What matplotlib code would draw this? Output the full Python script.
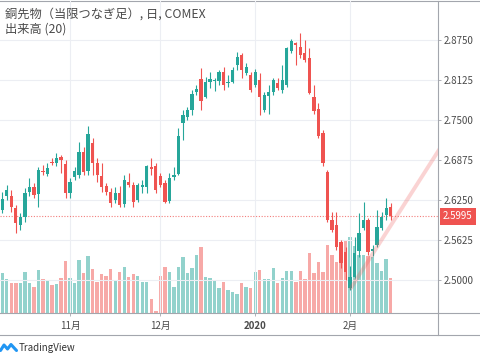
import matplotlib
matplotlib.use("Agg")
import matplotlib.pyplot as plt
import matplotlib.transforms as mtransforms
from matplotlib.lines import Line2D

plt.rcParams['font.family'] = ['Noto Sans CJK JP', 'DejaVu Sans']

# daily OHLC, COMEX copper (continuous), Oct 2019 - Feb 2020
opens = [2.609, 2.631, 2.631, 2.6125, 2.586, 2.598, 2.6375, 2.645, 2.634, 2.671,
         2.6656, 2.6845, 2.6823, 2.6922, 2.6813, 2.636, 2.661, 2.664, 2.700, 2.6703,
         2.7141, 2.6828, 2.6625, 2.6469, 2.6375, 2.625, 2.6359, 2.6188, 2.6531, 2.6484,
         2.625, 2.6453, 2.6453, 2.6766, 2.6781, 2.6625, 2.6516, 2.6234, 2.661, 2.6656,
         2.7453, 2.7547, 2.7656, 2.7938, 2.8141, 2.7864, 2.8098, 2.8109, 2.8109, 2.8255,
         2.8073, 2.8098, 2.8359, 2.8516, 2.8239, 2.8203, 2.8047, 2.8125, 2.7656, 2.7875,
         2.7942, 2.8078, 2.7969, 2.8047, 2.8583, 2.8703, 2.8645, 2.8547, 2.8464, 2.786,
         2.767, 2.7297, 2.6688, 2.5938, 2.586, 2.5594, 2.5438, 2.4875, 2.5047, 2.5453,
         2.5813, 2.5938, 2.5453, 2.5547, 2.5813, 2.6016, 2.6141]
highs = [2.6375, 2.648, 2.641, 2.617, 2.6047, 2.644, 2.659, 2.6516, 2.6766, 2.679,
         2.683, 2.6906, 2.6984, 2.6953, 2.6875, 2.659, 2.6766, 2.7156, 2.708, 2.7406,
         2.7219, 2.6906, 2.6828, 2.6516, 2.6438, 2.6453, 2.6469, 2.6641, 2.6672, 2.6536,
         2.6516, 2.6563, 2.680, 2.6906, 2.6828, 2.6672, 2.6563, 2.6672, 2.6766, 2.7375,
         2.7656, 2.7703, 2.7969, 2.8047, 2.8313, 2.8172, 2.8255, 2.8156, 2.8281, 2.8333,
         2.8203, 2.8333, 2.8567, 2.8547, 2.8391, 2.8255, 2.8297, 2.8234, 2.7938, 2.8047,
         2.8156, 2.8156, 2.8359, 2.864, 2.8766, 2.8723, 2.8864, 2.875, 2.8625, 2.8047,
         2.7766, 2.7344, 2.6719, 2.606, 2.606, 2.5625, 2.5516, 2.5219, 2.5672, 2.6047,
         2.6219, 2.5969, 2.5547, 2.6094, 2.6063, 2.6281, 2.6203]
lows = [2.6047, 2.625, 2.606, 2.573, 2.578, 2.5906, 2.631, 2.628, 2.614, 2.664,
        2.6625, 2.6797, 2.678, 2.667, 2.628, 2.628, 2.656, 2.659, 2.664, 2.664,
        2.6641, 2.6531, 2.6375, 2.6328, 2.6141, 2.6203, 2.6141, 2.6141, 2.6453, 2.6145,
        2.6219, 2.6359, 2.6364, 2.6641, 2.6359, 2.6453, 2.6203, 2.6203, 2.656, 2.664,
        2.7188, 2.75, 2.7578, 2.7891, 2.7656, 2.7844, 2.8, 2.7953, 2.8047, 2.7969,
        2.8016, 2.8078, 2.8281, 2.8156, 2.8203, 2.7938, 2.8016, 2.7578, 2.7625, 2.7598,
        2.7891, 2.7969, 2.7922, 2.8016, 2.8547, 2.836, 2.8464, 2.8411, 2.7906, 2.759,
        2.722, 2.678, 2.5906, 2.575, 2.547, 2.519, 2.5, 2.4844, 2.5031, 2.5359,
        2.5781, 2.539, 2.5375, 2.5516, 2.5781, 2.5938, 2.5938]
closes = [2.627, 2.641, 2.614, 2.589, 2.598, 2.636, 2.645, 2.633, 2.672, 2.6695,
          2.6755, 2.683, 2.691, 2.6875, 2.636, 2.6536, 2.6708, 2.700, 2.6687, 2.728,
          2.6828, 2.6641, 2.6453, 2.6375, 2.6203, 2.6359, 2.6172, 2.6563, 2.6484, 2.6223,
          2.6484, 2.6484, 2.6781, 2.6739, 2.6406, 2.6484, 2.6223, 2.6594, 2.664, 2.725,
          2.7578, 2.7656, 2.7906, 2.7984, 2.7802, 2.8098, 2.8141, 2.8125, 2.8255, 2.8047,
          2.8098, 2.8281, 2.8489, 2.8281, 2.8333, 2.7969, 2.8255, 2.7864, 2.7891, 2.7942,
          2.8125, 2.8, 2.8125, 2.8625, 2.8739, 2.8672, 2.8516, 2.8438, 2.7917, 2.764,
          2.725, 2.6828, 2.5938, 2.578, 2.5516, 2.5266, 2.5125, 2.5047, 2.5422, 2.5734,
          2.5938, 2.5438, 2.5484, 2.5828, 2.5984, 2.6125, 2.5995]
volume = [60000, 51000, 45000, 45000, 45000, 61500, 45000, 39000, 64500, 51000,
          48000, 42000, 43500, 52500, 78000, 52500, 45000, 79500, 60000, 85500,
          66000, 46500, 58500, 55500, 66000, 49500, 61500, 69000, 54000, 58500,
          55500, 46500, 46500, 21000, 3000, 55500, 69000, 61500, 39000, 69000,
          84000, 60000, 67500, 87000, 99000, 54000, 52500, 48000, 37500, 46500,
          34500, 31500, 28500, 45000, 39000, 37500, 61500, 64500, 51000, 51000,
          67500, 45000, 52500, 63000, 63000, 46500, 63000, 51000, 90000, 60000,
          76500, 61500, 102000, 87000, 76500, 100500, 109500, 114000, 100500, 87000,
          87000, 85500, 84000, 75000, 63000, 81000, 52500]

# time axis labels at bar index of first trading day
month_idx = [15, 35, 56, 77]
month_labels = ['11月', '12月', '2020', '2月']
price_ticks = [2.5000, 2.5625, 2.6250, 2.6875, 2.7500, 2.8125, 2.8750]
last_price = 2.5995
# hand-drawn trend line (bar index, price)
trend_x = [77.2, 97.1]
trend_y = [2.4875, 2.7078]

UP, DOWN = '#26a69a', '#ef5350'
UP_VOL, DOWN_VOL = '#92d2cc', '#f7a9a7'
GRID = '#eceef3'
FRAME = '#a3a6ad'
TEXT = '#4a4a4a'

W, H = 480, 358
fig = plt.figure(figsize=(W / 100, H / 100), dpi=100)
ax = fig.add_axes([0, 1 - 313 / H, 438 / W, 312 / H])
vol_ax = ax.twinx()
ax.set_zorder(2)
vol_ax.set_zorder(1)
ax.patch.set_visible(False)

idx = list(range(len(closes)))
is_up = [c >= o for o, c in zip(opens, closes)]

vol_ax.bar(idx, volume, width=0.74, color=[UP_VOL if u else DOWN_VOL for u in is_up])
vol_ax.set_ylim(0, 468000)
vol_ax.set_yticks([])
for s in vol_ax.spines.values():
    s.set_visible(False)

for i in idx:
    col = UP if is_up[i] else DOWN
    ax.vlines(i, lows[i], highs[i], color=col, lw=0.8, zorder=3)
    lo, hi = min(opens[i], closes[i]), max(opens[i], closes[i])
    ax.bar(i, max(hi - lo, 0.0013), bottom=lo, width=0.72, color=col, zorder=4)

ax.axhline(last_price, color=DOWN, lw=0.8, ls=(0, (1, 1.5)), alpha=0.75, zorder=2)
ax.plot(trend_x, trend_y, color=DOWN, alpha=0.25, lw=2.8, solid_capstyle='round', zorder=5)

ax.set_xlim(-0.51, 96.48)
ax.set_ylim(2.625 - 113 / 640, 2.625 + 199 / 640)

ax.yaxis.tick_right()
ax.set_yticks(price_ticks)
ax.set_yticklabels([f'{p:.4f}' for p in price_ticks])
ax.tick_params(axis='y', length=2.5, width=0.6, color=FRAME, pad=1.5,
               labelsize=7, labelcolor=TEXT)
ax.set_xticks(month_idx)
ax.set_xticklabels(month_labels)
ax.tick_params(axis='x', length=2, width=0.6, color=FRAME, pad=3.5,
               labelsize=7, labelcolor=TEXT)
for lab in ax.get_xticklabels():
    if lab.get_text() == '2020':
        lab.set_fontweight('bold')

ax.grid(True, color=GRID, lw=0.8)
ax.set_axisbelow(True)
for side in ['left', 'top']:
    ax.spines[side].set_visible(False)
for side in ['right', 'bottom']:
    ax.spines[side].set_color(FRAME)
    ax.spines[side].set_linewidth(0.8)

trans = mtransforms.blended_transform_factory(ax.transAxes, ax.transData)
ax.text(1.0114, last_price, f'{last_price:.4f}', transform=trans, ha='left', va='center',
        fontsize=7, color='white', zorder=6, clip_on=False,
        bbox=dict(boxstyle='square,pad=0.35', fc=DOWN, ec='none'))


def fx(x):
    return x / W


def fy(y):
    return 1 - y / H


# frame lines around the panes
for xs, ys in [([0, W], [0.5, 0.5]), ([438, W], [313, 313]),
               ([0, W], [334.5, 334.5]), ([438, 438], [313, 334.5])]:
    fig.add_artist(Line2D([fx(x) for x in xs], [fy(y) for y in ys],
                          color=FRAME, lw=0.8))

fig.text(fx(5), fy(14.5), '銅先物（当限つなぎ足）, 日, COMEX', fontsize=8.8,
         color=TEXT, va='center', ha='left')
fig.text(fx(5), fy(29.5), '出来高 (20)', fontsize=8.8, color=TEXT,
         va='center', ha='left')

# TradingView mark
logo_x = [0.5, 4, 7.5, 11, 16.5]
logo_y = [350.5, 345, 349, 344.5, 350.5]
fig.add_artist(Line2D([fx(x) for x in logo_x], [fy(y) for y in logo_y],
                      color='#2196f3', lw=2.2, solid_joinstyle='round',
                      solid_capstyle='round'))
fig.text(fx(19), fy(348), 'TradingView', fontsize=7, color='#333333',
         va='center', ha='left')

fig.savefig('out.png', dpi=100)
